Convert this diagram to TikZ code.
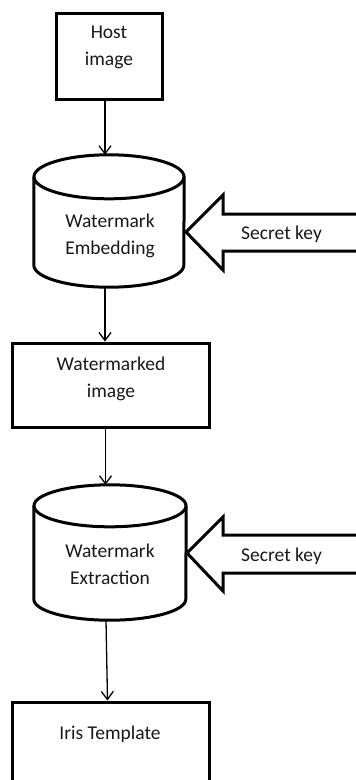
\documentclass[tikz,border=0pt]{standalone}
\usepackage{fontspec}
\setmainfont{Carlito}
\usetikzlibrary{arrows.meta}
\begin{document}
\begin{tikzpicture}[x=1pt,y=-1pt,
  shapeline/.style={line width=3pt, draw=black, line join=miter},
  boxshape/.style={rectangle, draw=black, line width=3pt, inner sep=0pt, fill=white},
  cylbody/.style={rectangle, draw=none, inner sep=0pt},
  lbl/.style={font=\fontsize{19.5}{27}\selectfont, text=black!90, align=center, inner sep=0pt, anchor=base},
  conn/.style={line width=1.3pt, -{Straight Barb[length=8pt,width=12pt,line width=1.3pt]}}
]
\useasboundingbox (0,0) rectangle (356,780);
\clip (0,0) rectangle (356,780);
\fill[white] (0,0) rectangle (356,780);

% Host image box
\node[boxshape, minimum width=106pt, minimum height=86pt] (host) at (109,56) {};
\node[lbl] (hostt) at (109,65) {Host\\image};

% Embedding cylinder
\node[cylbody, minimum width=150pt, minimum height=132pt] (emb) at (109,221) {};
\draw[shapeline] ([yshift=-22pt]emb.north west) -- ([yshift=22pt]emb.south west)
  arc[start angle=180, end angle=360, x radius=75pt, y radius=22pt]
  -- ([yshift=-22pt]emb.north east);
\draw[shapeline] ([yshift=-22pt]emb.north) ellipse[x radius=75pt, y radius=22pt];
\node[lbl] (embt) at (110,254) {Watermark\\Embedding};

% Watermarked image box
\node[boxshape, minimum width=197pt, minimum height=84pt] (wm) at (110.5,385) {};
\node[lbl] (wmt) at (111,397) {Watermarked\\image};

% Extraction cylinder
\node[cylbody, minimum width=152pt, minimum height=135pt] (ext) at (110,552.5) {};
\draw[shapeline] ([yshift=-21pt]ext.north west) -- ([yshift=21pt]ext.south west)
  arc[start angle=180, end angle=360, x radius=76pt, y radius=21pt]
  -- ([yshift=-21pt]ext.north east);
\draw[shapeline] ([yshift=-21pt]ext.north) ellipse[x radius=76pt, y radius=21pt];
\node[lbl] (extt) at (110,584) {Watermark\\Extraction};

% Iris template box
\node[boxshape, minimum width=197pt, minimum height=108pt] (iris) at (110.5,756) {};
\node[lbl] (irist) at (110,739) {Iris Template};

% Secret key block arrows
\draw[shapeline] (186,232) -- (223,195) -- (223,214) -- (370,214) -- (370,251)
  -- (223,251) -- (223,270) -- cycle;
\node[lbl] (key1) at (281.5,239) {Secret key};
\draw[shapeline] (187,553) -- (223,517) -- (223,535) -- (370,535) -- (370,573)
  -- (223,573) -- (223,591) -- cycle;
\node[lbl] (key2) at (281.5,561) {Secret key};

% Connectors
\draw[conn] ([xshift=-4pt]host.south) -- ([xshift=-4pt]emb.north);
\draw[conn] ([xshift=-4pt]emb.south) -- ([xshift=-4pt]emb.south |- wm.north);
\draw[conn] ([xshift=-5pt]wm.south) -- ([xshift=-5pt]wm.south |- ext.north);
\draw[conn] ([xshift=-4pt]ext.south) -- ([xshift=-3pt]iris.north);
\end{tikzpicture}
\end{document}
